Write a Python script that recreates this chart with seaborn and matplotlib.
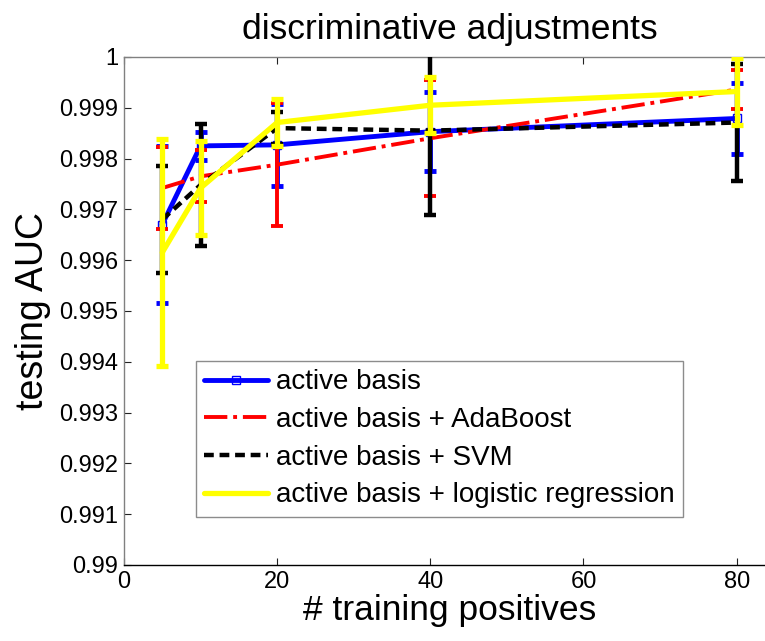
import matplotlib
matplotlib.use("Agg")
import matplotlib.pyplot as plt
import seaborn as sns
import pandas as pd
import numpy as np
from matplotlib.ticker import FixedLocator, FixedFormatter

# ---- data ----
x_vals = [5, 10, 20, 40, 80]
series_names = ["active basis", "active basis + AdaBoost", "active basis + SVM",
                "active basis + logistic regression"]
ab_mean = [0.99670, 0.99825, 0.99827, 0.99853, 0.99879]
ab_err = [0.00154, 0.00028, 0.00081, 0.00078, 0.00069]
ada_mean = [0.99742, 0.99765, 0.99788, 0.99840, 0.99936]
ada_err = [0.00080, 0.00051, 0.00121, 0.00114, 0.00039]
svm_mean = [0.99680, 0.99748, 0.99860, 0.99855, 0.99871]
svm_err = [0.00106, 0.00121, 0.00032, 0.00167, 0.00116]
lr_mean = [0.99615, 0.99742, 0.99871, 0.99905, 0.99932]
lr_err = [0.00223, 0.00092, 0.00047, 0.00055, 0.00066]

y_ticks = [0.99, 0.991, 0.992, 0.993, 0.994, 0.995, 0.996, 0.997, 0.998, 0.999, 1.0]
y_tick_labels = ["0.99", "0.991", "0.992", "0.993", "0.994", "0.995", "0.996",
                 "0.997", "0.998", "0.999", "1"]
x_ticks = [0, 20, 40, 60, 80]
x_tick_labels = ["0", "20", "40", "60", "80"]

sns.set_style("white")
plt.rcParams['font.family'] = ['Liberation Sans', 'DejaVu Sans']
plt.rcParams['text.color'] = 'black'
plt.rcParams['axes.labelcolor'] = 'black'

fig = plt.figure(figsize=(7.65, 6.41), dpi=100)
ax = fig.add_axes([0.162, 0.1186, 0.851, 0.7925])

means = [ab_mean, ada_mean, svm_mean, lr_mean]
errs = [ab_err, ada_err, svm_err, lr_err]
colors = ["#0000ff", "#ff0000", "#000000", "#ffff00"]
styles = ["-", (0, (6, 1.5, 1, 1.5)), (0, (2.2, 1.3)), "-"]
widths = [3.5, 2.8, 3.2, 3.8]

rows = []
for name, m in zip(series_names, means):
    for xv, mv in zip(x_vals, m):
        rows.append({"x": xv, "auc": mv, "method": name})
df = pd.DataFrame(rows)

for i, (name, m, e) in enumerate(zip(series_names, means, errs)):
    sub = df[df["method"] == name]
    ax.errorbar(x_vals, m, yerr=e, fmt='none', ecolor=colors[i],
                elinewidth=widths[i], capsize=4.5, capthick=widths[i],
                linestyle=styles[i], zorder=2 + i)
    sns.lineplot(data=sub, x="x", y="auc", ax=ax, color=colors[i],
                 linestyle=styles[i], linewidth=widths[i], label=name,
                 marker="s" if i == 0 else None, markersize=6,
                 markerfacecolor="none", markeredgecolor=colors[i],
                 markeredgewidth=1, zorder=2 + i)

ax.set_xlim(0, 85)
ax.set_ylim(0.99, 1.0)
ax.yaxis.set_major_locator(FixedLocator(y_ticks))
ax.yaxis.set_major_formatter(FixedFormatter(y_tick_labels))
ax.xaxis.set_major_locator(FixedLocator(x_ticks))
ax.xaxis.set_major_formatter(FixedFormatter(x_tick_labels))
ax.tick_params(direction='in', length=5, width=0.8, labelsize=17, colors='#222222',
               top=True, left=True, bottom=True, right=False, labelcolor='black', pad=4)
for s in ["left", "top"]:
    ax.spines[s].set_color("#808080")
    ax.spines[s].set_linewidth(1.0)
ax.spines["right"].set_visible(False)
ax.spines["bottom"].set_color("black")
ax.spines["bottom"].set_linewidth(1.0)

ax.set_xlabel("# training positives", fontsize=25.5, labelpad=1, color='black')
ax.set_ylabel("testing AUC", fontsize=27, labelpad=6, color='black')
ax.set_title("discriminative adjustments", fontsize=25.5, pad=13, color='black')

leg = ax.legend(loc="lower left", bbox_to_anchor=(0.11, 0.095), fontsize=20,
                frameon=True, fancybox=False, edgecolor="#707070",
                handlelength=2.3, handletextpad=0.3, labelspacing=0.42,
                borderpad=0.3, borderaxespad=0)
leg.get_frame().set_linewidth(1.0)
for t in leg.get_texts():
    t.set_color('black')

fig.savefig("out.png", dpi=100)
